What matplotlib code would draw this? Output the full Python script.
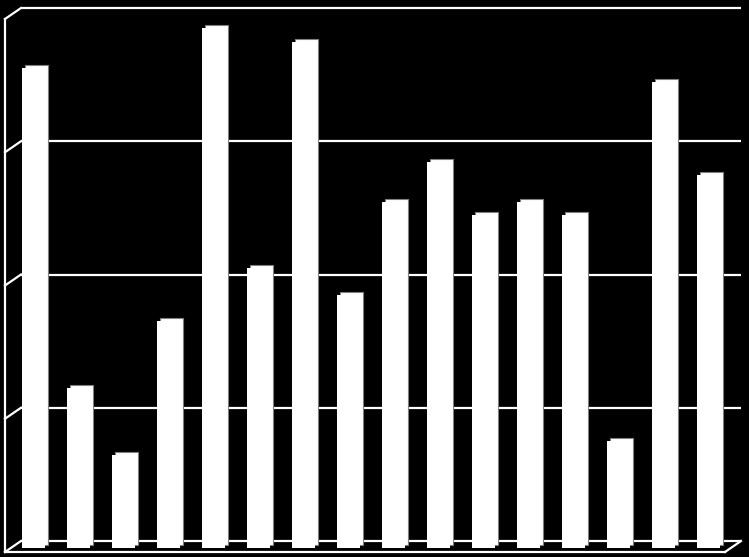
import matplotlib
matplotlib.use("Agg")
import matplotlib.pyplot as plt
import numpy as np

# bar values (scale 0-4, gridline every 1)
values = [3.6, 1.2, 0.7, 1.7, 3.9, 2.1, 3.8, 1.9, 2.6, 2.9, 2.5, 2.6, 2.5, 0.8, 3.5, 2.8]
grid_levels = [0, 1, 2, 3, 4]

W, H = 749, 557
fig = plt.figure(figsize=(W / 100, H / 100), dpi=100, facecolor="black")
# axes area = back wall of the 3d box
ax = fig.add_axes([21 / W, 16 / H, 720 / W, 533 / H], facecolor="black")
n = len(values)
ax.set_xlim(0, n)
ax.set_ylim(0, 4)
ax.axis("off")

ux = 720 / n      # pixels per x unit
uy = 533 / 4      # pixels per y unit
fx, fy = -16 / ux, -11 / uy   # depth offset of the front edge

lw = 1.6
# back wall gridlines
for g in grid_levels:
    ax.plot([0, n], [g, g], color="white", lw=lw, clip_on=False, solid_capstyle="butt")
    ax.plot([0, fx], [g, g + fy], color="white", lw=lw, clip_on=False)
# left front edge
ax.plot([fx, fx], [fy, 4 + fy], color="white", lw=lw, clip_on=False)
# floor front edge + right corner
ax.plot([fx, n + fx], [fy, fy], color="white", lw=lw, clip_on=False)
ax.plot([n, n + fx], [0, fy], color="white", lw=lw, clip_on=False)

# bars: back face and front face to fake the 3d look
x = np.arange(n) + 0.5
w = 23 / ux
ax.bar(x - 7 / ux, values, width=w, bottom=-4 / uy, color="white",
       edgecolor="#808080", linewidth=0.8, clip_on=False, zorder=3)
ax.bar(x - 10 / ux, values, width=w, bottom=-7 / uy, color="white",
       linewidth=0, clip_on=False, zorder=4)

fig.savefig("out.png", dpi=100, facecolor="black")
